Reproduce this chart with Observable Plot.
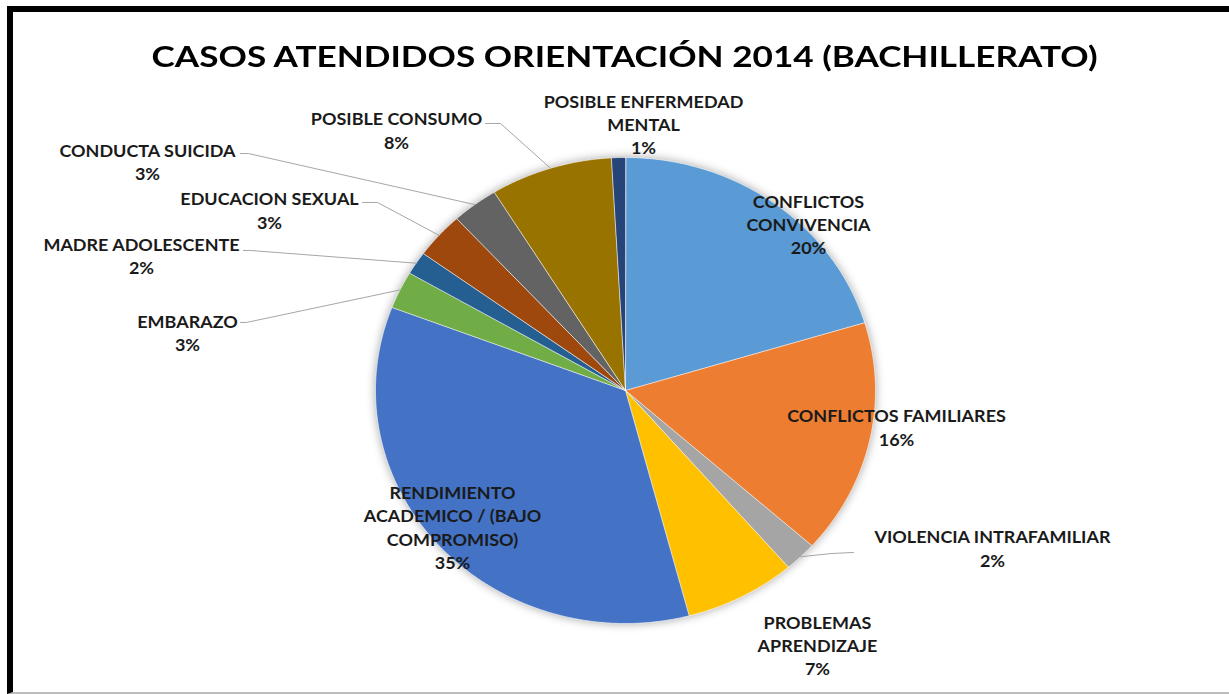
<!DOCTYPE html>
<html><head><meta charset="utf-8">
<script src="https://cdn.jsdelivr.net/npm/d3@7"></script>
<script src="https://cdn.jsdelivr.net/npm/@observablehq/plot@0.6"></script>
<style>
body{margin:0;background:#fff;}
#page{position:relative;width:1229px;height:694px;overflow:hidden;background:#fff}
#frame{position:absolute;left:7px;top:6px;width:1240px;height:688px;border-left:6px solid #000;border-top:6px solid #000;border-bottom:2px solid #bdbdbd;box-sizing:border-box}
#title{position:absolute;left:0;width:1250px;top:41px;text-align:center;font-family:Lato,sans-serif;font-weight:700;font-size:29px;line-height:29px;color:#000;white-space:nowrap}
#title span{display:inline-block;transform-origin:50% 50%}
#chart{position:absolute;left:0;top:0}
</style></head>
<body><div id="page"><div id="frame"></div><div id="title"><span>CASOS ATENDIDOS ORIENTACIÓN 2014 (BACHILLERATO)</span></div><div id="chart"></div></div>
<script>
// ---- data (shares; labels show them rounded) ----
const categories = ["CONFLICTOS CONVIVENCIA","CONFLICTOS FAMILIARES","VIOLENCIA INTRAFAMILIAR","PROBLEMAS APRENDIZAJE","RENDIMIENTO ACADEMICO / (BAJO COMPROMISO)","EMBARAZO","MADRE ADOLESCENTE","EDUCACION SEXUAL","CONDUCTA SUICIDA","POSIBLE CONSUMO","POSIBLE ENFERMEDAD MENTAL"];
const shares = [20.3,16.3,2.1,7.2,34.9,2.6,1.6,3.2,3.0,7.9,0.9];
const labelLines = [["CONFLICTOS","CONVIVENCIA"],["CONFLICTOS FAMILIARES"],["VIOLENCIA INTRAFAMILIAR"],["PROBLEMAS","APRENDIZAJE"],["RENDIMIENTO","ACADEMICO / (BAJO","COMPROMISO)"],["EMBARAZO"],["MADRE ADOLESCENTE"],["EDUCACION SEXUAL"],["CONDUCTA SUICIDA"],["POSIBLE CONSUMO"],["POSIBLE ENFERMEDAD","MENTAL"]];
const colors = ["#5B9BD5","#ED7D31","#A5A5A5","#FFC000","#4472C4","#70AD47","#255E91","#9E480E","#636363","#997300","#264478"];

// ---- layout (unit-ellipse coordinates: pie radius = 1) ----
const labelPos = [[0.732,0.717],[1.084,-0.155],[1.468,-0.674],[0.768,-1.09],[-0.692,-0.584],[-1.752,0.251],[-1.936,0.582],[-1.424,0.777],[-1.912,0.985],[-0.916,1.12],[0.072,1.146]];
const leaderPts = {2:[[0.912,-0.695],[0.82,-0.70]],5:[[-1.54,0.292],[-1.516,0.292]],6:[[-1.528,0.601],[-1.5,0.601]],7:[[-1.052,0.807],[-0.992,0.807]],8:[[-1.54,1.017],[-1.508,1.017]],9:[[-0.56,1.146],[-0.5,1.146]]};

const W=1229,H=694,CX=625,CY=390,RX=250,RY=233;
const total = d3.sum(shares);
let acc = 0;
const slices = categories.map((c,i)=>{const a0=acc/total*2*Math.PI; acc+=shares[i]; const a1=acc/total*2*Math.PI; return {c,i,a0,a1,mid:(a0+a1)/2,color:colors[i]};});
const poly = [];
for (const s of slices){
  poly.push({k:s.i,x:0,y:0,color:s.color});
  const n = Math.max(2, Math.ceil((s.a1-s.a0)/(Math.PI/360)));
  for (let j=0;j<=n;j++){const a=s.a0+(s.a1-s.a0)*j/n; poly.push({k:s.i,x:Math.sin(a),y:Math.cos(a),color:s.color});}
}
const leaders = [];
for (const [k,pts] of Object.entries(leaderPts)){
  const s = slices[+k];
  pts.forEach(p=>leaders.push({k:+k,x:p[0],y:p[1]}));
  leaders.push({k:+k,x:Math.sin(s.mid),y:Math.cos(s.mid)});
}
const labels = slices.map(s=>({x:labelPos[s.i][0],y:labelPos[s.i][1],text:[...labelLines[s.i], Math.round(shares[s.i]/total*100)+"%"].join("\n")}));

const svg = Plot.plot({
  width:W,height:H,margin:0,
  x:{domain:[-CX/RX,(W-CX)/RX],range:[0,W],axis:null},
  y:{domain:[(CY-H)/RY,CY/RY],range:[H,0],axis:null},
  color:{type:"identity"},
  style:{background:"transparent",overflow:"visible"},
  marks:[
    Plot.line(poly,{x:"x",y:"y",z:"k",fill:"color",stroke:"white",strokeWidth:0.6,curve:"linear-closed"}),
    Plot.line(leaders,{x:"x",y:"y",z:"k",stroke:"#a6a6a6",strokeWidth:1}),
    Plot.text(labels,{x:"x",y:"y",text:"text",fontSize:16.5,fontWeight:"bold",fontFamily:"Lato",lineHeight:1.42,fill:"#1a1a1a"})
  ]
});
d3.select(svg).select('g[aria-label="line"]').style("filter","drop-shadow(0px 0px 5px rgba(0,0,0,0.35))");
document.getElementById("chart").appendChild(svg);
d3.select(svg).selectAll('g[aria-label="text"] text').each(function(){
  const t = this.getAttribute("transform") || "";
  this.setAttribute("transform", t + " scale(1.09,1)");
});
const span = document.querySelector("#title span");
const w = span.getBoundingClientRect().width;
span.style.transform = `scaleX(${946/w})`;
</script></body></html>
